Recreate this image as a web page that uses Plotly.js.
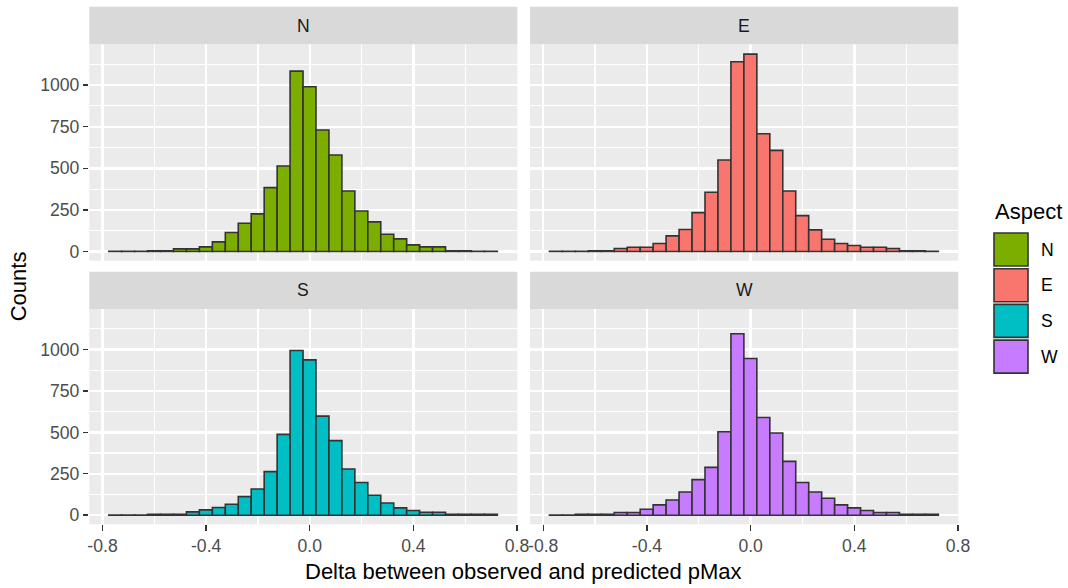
<!DOCTYPE html>
<html>
<head>
<meta charset="utf-8">
<script src="https://cdn.plot.ly/plotly-3.0.1.min.js"></script>
<style>html,body{margin:0;padding:0;background:#fff;}#chart{width:1068px;height:588px;}</style>
</head>
<body>
<div id="chart"></div>
<script>
// ---- data ----
var aspects = ["N", "E", "S", "W"];
var aspectColors = ["#7CAE00", "#F8766D", "#00BFC4", "#C77CFF"];
var binWidth = 0.05;
var binCenters = [-0.751,-0.701,-0.651,-0.601,-0.551,-0.501,-0.451,-0.401,-0.351,-0.301,
                  -0.251,-0.201,-0.151,-0.101,-0.051,-0.001,0.049,0.099,0.149,0.199,
                  0.249,0.299,0.349,0.399,0.449,0.499,0.549,0.599,0.649,0.699];
var countsN = [1,1,1,5,5,16,16,28,58,114,170,226,384,514,1084,990,730,580,364,244,178,104,76,40,28,28,5,5,1,1];
var countsE = [1,1,1,5,5,18,26,26,48,94,132,234,356,550,1140,1186,708,608,364,216,130,74,48,36,26,26,18,5,5,1];
var countsS = [1,1,1,5,5,5,20,32,46,66,112,158,263,488,994,938,598,450,279,197,120,74,44,28,18,18,5,5,5,5];
var countsW = [1,1,5,5,5,16,16,36,62,92,140,215,289,504,1096,946,590,496,325,197,140,102,62,44,28,16,16,5,5,5];
var xTickVals = [-0.8, -0.4, 0, 0.4, 0.8];
var xTickLabels = ["-0.8", "-0.4", "0.0", "0.4", "0.8"];
var yTickVals = [0, 250, 500, 750, 1000];
var yTickLabels = ["0", "250", "500", "750", "1000"];
var xTitle = "Delta between observed and predicted pMax";
var yTitle = "Counts";
var legendTitle = "Aspect";

// ---- layout helpers ----
var W = 1068, H = 588;
function px(x) { return x / W; }
function py(y) { return 1 - y / H; }
var FONT = "Arial, 'Liberation Sans', sans-serif";

var allCounts = [countsN, countsE, countsS, countsW];
var axisIds = ["", "2", "3", "4"];
var colDom = [[px(89.3), px(517.3)], [px(530), px(958.3)]];
var rowDom = [[py(260.7), py(44.3)], [py(524.3), py(309)]];
var stripY = [[6.7, 44.3], [271.7, 309]];

var traces = [];
aspects.forEach(function (a, i) {
  traces.push({
    type: "bar",
    x: binCenters,
    y: allCounts[i],
    width: binWidth,
    name: a,
    xaxis: "x" + axisIds[i],
    yaxis: "y" + axisIds[i],
    marker: { color: aspectColors[i], line: { color: "#333333", width: 1.6 } },
    showlegend: false,
    hoverinfo: "x+y"
  });
});

var layout = {
  width: W, height: H,
  margin: { l: 0, r: 0, t: 0, b: 0 },
  paper_bgcolor: "#FFFFFF",
  plot_bgcolor: "#EBEBEB",
  font: { family: FONT, color: "#000000" },
  showlegend: false,
  shapes: [],
  annotations: []
};

aspects.forEach(function (a, i) {
  var row = Math.floor(i / 2), col = i % 2;
  var isBottom = row === 1, isLeft = col === 0;
  layout["xaxis" + axisIds[i]] = {
    domain: colDom[col],
    anchor: "y" + axisIds[i],
    range: [-0.851, 0.801],
    tickmode: "array",
    tickvals: xTickVals,
    ticktext: xTickLabels,
    showticklabels: isBottom,
    ticks: isBottom ? "outside" : "",
    ticklen: 5.5, tickwidth: 1.4, tickcolor: "#333333",
    tickfont: { family: FONT, size: 17.6, color: "#4D4D4D" },
    showgrid: true, gridcolor: "#FFFFFF", gridwidth: 2.4,
    minor: { tickmode: "linear", tick0: 0, dtick: 0.2, showgrid: true, gridcolor: "#FFFFFF", gridwidth: 1.2, ticks: "" },
    zeroline: false, showline: false, fixedrange: true
  };
  layout["yaxis" + axisIds[i]] = {
    domain: rowDom[row],
    anchor: "x" + axisIds[i],
    range: [-55, 1245],
    tickmode: "array",
    tickvals: yTickVals,
    ticktext: yTickLabels,
    showticklabels: isLeft,
    ticks: isLeft ? "outside" : "",
    ticklen: 5.5, tickwidth: 1.4, tickcolor: "#333333",
    tickfont: { family: FONT, size: 17.6, color: "#4D4D4D" },
    showgrid: true, gridcolor: "#FFFFFF", gridwidth: 2.4,
    minor: { tickmode: "linear", tick0: 125, dtick: 250, showgrid: true, gridcolor: "#FFFFFF", gridwidth: 1.2, ticks: "" },
    zeroline: false, showline: false, fixedrange: true
  };
  // strip
  layout.shapes.push({
    type: "rect", xref: "paper", yref: "paper",
    x0: colDom[col][0], x1: colDom[col][1],
    y0: py(stripY[row][1]), y1: py(stripY[row][0]),
    fillcolor: "#D9D9D9", line: { width: 0 }
  });
  layout.annotations.push({
    xref: "paper", yref: "paper",
    x: (colDom[col][0] + colDom[col][1]) / 2,
    y: py((stripY[row][0] + stripY[row][1]) / 2),
    text: a, showarrow: false, xanchor: "center", yanchor: "middle",
    font: { family: FONT, size: 17.6, color: "#1A1A1A" }
  });
});

// axis titles
layout.annotations.push({
  xref: "paper", yref: "paper", x: px(523.8), y: py(571),
  text: xTitle, showarrow: false, xanchor: "center", yanchor: "middle",
  font: { family: FONT, size: 22, color: "#000000" }
});
layout.annotations.push({
  xref: "paper", yref: "paper", x: px(18.3), y: py(286),
  text: yTitle, showarrow: false, xanchor: "center", yanchor: "middle", textangle: -90,
  font: { family: FONT, size: 22, color: "#000000" }
});

// legend (drawn manually to match key size)
layout.annotations.push({
  xref: "paper", yref: "paper", x: px(993), y: py(211.5),
  text: legendTitle, showarrow: false, xanchor: "left", yanchor: "middle",
  font: { family: FONT, size: 22, color: "#000000" }
});
aspects.forEach(function (a, i) {
  var cy = 249.5 + 35.7 * i;
  layout.shapes.push({
    type: "rect", xref: "paper", yref: "paper",
    x0: px(994), x1: px(1028), y0: py(cy + 16.5), y1: py(cy - 16.5),
    fillcolor: aspectColors[i], line: { color: "#333333", width: 1.6 }
  });
  layout.annotations.push({
    xref: "paper", yref: "paper", x: px(1039), y: py(cy),
    text: a, showarrow: false, xanchor: "left", yanchor: "middle",
    font: { family: FONT, size: 17.6, color: "#000000" }
  });
});

Plotly.newPlot("chart", traces, layout, { displayModeBar: false, staticPlot: true });
</script>
</body>
</html>
